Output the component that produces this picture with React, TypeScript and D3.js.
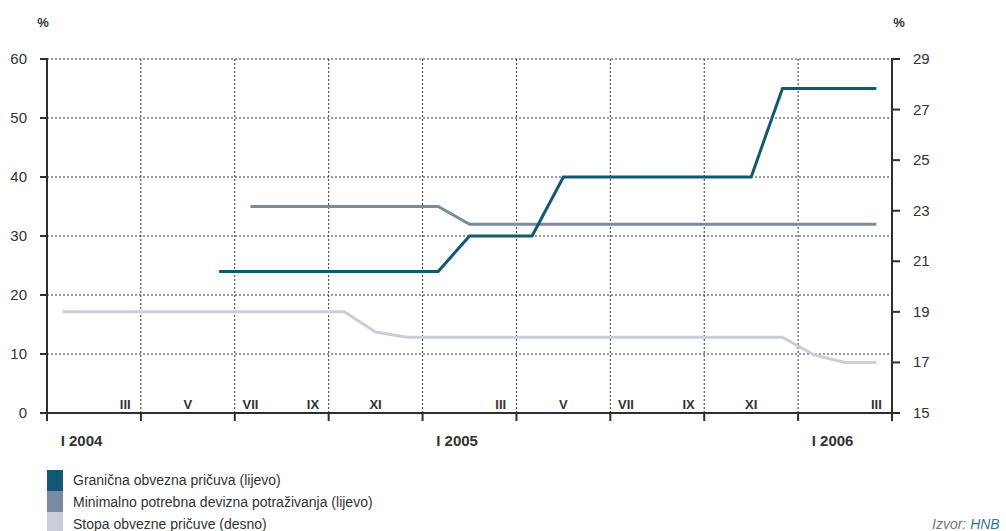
import React from "react";
import * as d3 from "d3";

// Monthly observations, January 2004 – March 2006 (27 months)
const monthCount = 27;
const startYear = 2004;
const romanMonths = ["I", "II", "III", "IV", "V", "VI", "VII", "VIII", "IX", "X", "XI", "XII"];

// Granična obvezna pričuva (left axis, %)
const granicna: (number | null)[] = [
  null, null, null, null, null,
  24, 24, 24, 24, 24, 24, 24,
  24, 30, 30, 30, 40, 40, 40, 40, 40, 40, 40, 55,
  55, 55, 55,
];

// Minimalno potrebna devizna potraživanja (left axis, %)
const minimalno: (number | null)[] = [
  null, null, null, null, null, null,
  35, 35, 35, 35, 35, 35,
  35, 32, 32, 32, 32, 32, 32, 32, 32, 32, 32, 32,
  32, 32, 32,
];

// Stopa obvezne pričuve (right axis, %)
const stopa: number[] = [
  19, 19, 19, 19, 19, 19, 19, 19, 19, 19, 18.2, 18,
  18, 18, 18, 18, 18, 18, 18, 18, 18, 18, 18, 18,
  17.3, 17, 17,
];

const leftTicks = [0, 10, 20, 30, 40, 50, 60];
const rightTicks = [15, 17, 19, 21, 23, 25, 27, 29];
const quarterBoundaries = [0, 3, 6, 9, 12, 15, 18, 21, 24, 27];
const shownMonthLabels = [2, 4, 6, 8, 10, 14, 16, 18, 20, 22, 26];
const yearLabelMonths = [0, 12, 24];

const legendItems = [
  { label: "Granična obvezna pričuva (lijevo)", color: "#0f5a72" },
  { label: "Minimalno potrebna devizna potraživanja (lijevo)", color: "#7a8b9f" },
  { label: "Stopa obvezne pričuve (desno)", color: "#c9ced8" },
];

const W = 1006;
const H = 531;
const plotLeft = 47;
const plotRight = 892;
const plotTop = 59;
const plotBottom = 413;
const axisColor = "#2e2e2e";
const textColor = "#333333";
const font = "'Liberation Sans', Arial, sans-serif";

export default function App() {
  const x = d3.scaleLinear().domain([0, monthCount]).range([plotLeft, plotRight]);
  const yLeft = d3.scaleLinear().domain([0, 60]).range([plotBottom, plotTop]);
  const yRight = d3.scaleLinear().domain([15, 29]).range([plotBottom, plotTop]);
  const mid = (i: number) => x(i + 0.5);

  const leftLine = d3
    .line<number | null>()
    .defined((d) => d != null)
    .x((_, i) => mid(i))
    .y((d) => yLeft(d as number));
  const rightLine = d3
    .line<number>()
    .x((_, i) => mid(i))
    .y((d) => yRight(d));

  return (
    <svg
      width={W}
      height={H}
      style={{ position: "absolute", left: 0, top: 0, background: "#fff" }}
      fontFamily={font}
    >
      {/* unit labels */}
      <text x={43} y={27} fontSize={13} fontWeight="bold" fill={textColor} textAnchor="middle">%</text>
      <text x={899} y={27} fontSize={13} fontWeight="bold" fill={textColor} textAnchor="middle">%</text>

      {/* horizontal grid */}
      {leftTicks.filter((t) => t > 0).map((t) => (
        <line key={"hg" + t} x1={plotLeft} x2={plotRight} y1={yLeft(t)} y2={yLeft(t)}
          stroke="#333" strokeWidth={1} strokeDasharray="2,2" />
      ))}
      {/* vertical grid at quarter boundaries */}
      {quarterBoundaries.slice(1, -1).map((q) => (
        <line key={"vg" + q} x1={x(q)} x2={x(q)} y1={plotTop} y2={plotBottom}
          stroke="#333" strokeWidth={1} strokeDasharray="2,2" />
      ))}

      {/* series */}
      <path d={rightLine(stopa) || ""} fill="none" stroke={legendItems[2].color} strokeWidth={3} />
      <path d={leftLine(minimalno) || ""} fill="none" stroke={legendItems[1].color} strokeWidth={3} />
      <path d={leftLine(granicna) || ""} fill="none" stroke={legendItems[0].color} strokeWidth={3} />

      {/* left axis */}
      <line x1={plotLeft} x2={plotLeft} y1={plotTop - 1} y2={plotBottom + 8} stroke={axisColor} strokeWidth={2} />
      {leftTicks.map((t) => (
        <g key={"lt" + t}>
          <line x1={plotLeft - 7} x2={plotLeft} y1={yLeft(t)} y2={yLeft(t)} stroke={axisColor} strokeWidth={2} />
          <text x={27} y={yLeft(t) + 5} fontSize={15} fill={textColor} textAnchor="end">{t}</text>
        </g>
      ))}

      {/* right axis */}
      <line x1={plotRight} x2={plotRight} y1={plotTop - 1} y2={plotBottom + 8} stroke={axisColor} strokeWidth={2} />
      {rightTicks.map((t) => (
        <g key={"rt" + t}>
          <line x1={plotRight} x2={plotRight + 8} y1={yRight(t)} y2={yRight(t)} stroke={axisColor} strokeWidth={2} />
          <text x={913} y={yRight(t) + 5} fontSize={15} fill={textColor} textAnchor="start">{t}</text>
        </g>
      ))}

      {/* bottom axis */}
      <line x1={plotLeft - 7} x2={plotRight + 8} y1={plotBottom} y2={plotBottom} stroke={axisColor} strokeWidth={2} />
      {quarterBoundaries.map((q) => (
        <line key={"bt" + q} x1={x(q)} x2={x(q)} y1={plotBottom} y2={plotBottom + 8} stroke={axisColor} strokeWidth={2} />
      ))}
      {shownMonthLabels.map((m) => (
        <text key={"ml" + m} x={mid(m)} y={409} fontSize={13} fontWeight="bold" fill={textColor} textAnchor="middle">
          {romanMonths[m % 12]}
        </text>
      ))}
      {yearLabelMonths.map((m) => (
        <text key={"yl" + m} x={mid(m) - 2} y={446} fontSize={15} fontWeight="bold" fill={textColor} textAnchor="start">
          {"I " + (startYear + m / 12)}
        </text>
      ))}

      {/* legend */}
      {legendItems.map((item, i) => (
        <g key={"lg" + i}>
          <rect x={47} y={470 + i * 21} width={16} height={21} fill={item.color} />
          <text x={73} y={485 + i * 22} fontSize={14} fill={textColor}>{item.label}</text>
        </g>
      ))}

      {/* source */}
      <text x={932} y={529} fontSize={14} fontStyle="italic" fill="#777">
        Izvor: <tspan fill="#2f7a97">HNB</tspan>
      </text>
    </svg>
  );
}
